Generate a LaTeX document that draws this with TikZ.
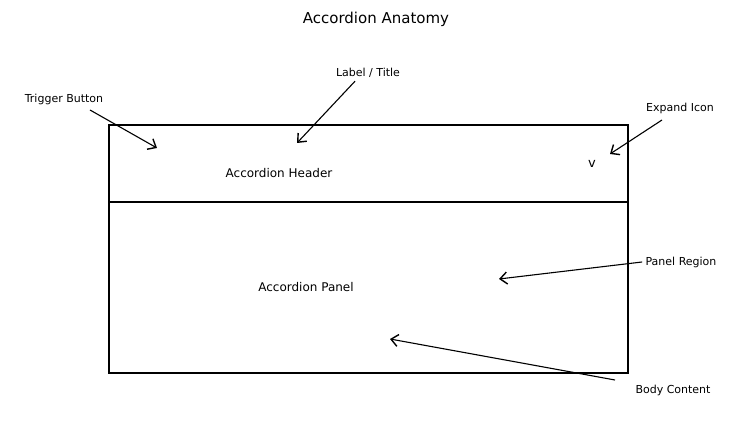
\documentclass[tikz,border=0pt]{standalone}
\usepackage{fontspec}
\setmainfont{DejaVu Sans}
\usetikzlibrary{arrows.meta}
\begin{document}
\begin{tikzpicture}[x=1pt,y=-1pt,
  box/.style={draw, line width=1.6pt},
  callout/.style={font=\fontsize{11}{13}\selectfont},
  pointer/.style={draw, line width=1.1pt, -{Straight Barb[length=7pt,width=12pt,line width=1.4pt]}}]
\useasboundingbox (0,0) rectangle (739,443);
% title
\node[font=\fontsize{15}{18}\selectfont] (title) at (376,19) {Accordion Anatomy};

% the two parts
\draw[box] (109,125) rectangle (628,202);
\draw[box] (109,202) rectangle (628,373);
\node[font=\fontsize{12}{14}\selectfont] (header) at (279,173) {Accordion Header};
\node[font=\fontsize{12}{14}\selectfont] (panel) at (306,287) {Accordion Panel};
\node[font=\fontsize{13}{15}\selectfont] (icon) at (592,164) {v};

% callouts
\node[callout] (trigger) at (64,99) {Trigger Button};
\node[callout] (label) at (368,73) {Label / Title};
\node[callout] (expand) at (680,108) {Expand Icon};
\node[callout] (region) at (681,262) {Panel Region};
\node[callout] (body) at (673,390) {Body Content};
\coordinate (triggerTip) at (157,148);
\coordinate (labelTip) at (297,143);
\coordinate (expandTip) at (610,154);
\coordinate (regionTip) at (499,279);
\coordinate (bodyTip) at (390,339);

\draw[pointer] (90,110) -- (triggerTip);
\draw[pointer] (label.south) ++(-13,0) -- (labelTip);
\draw[pointer] (662,120) -- (expandTip);
\draw[pointer] (region.west) -- (regionTip);
\draw[pointer] (615,380) -- (bodyTip);
\end{tikzpicture}
\end{document}
